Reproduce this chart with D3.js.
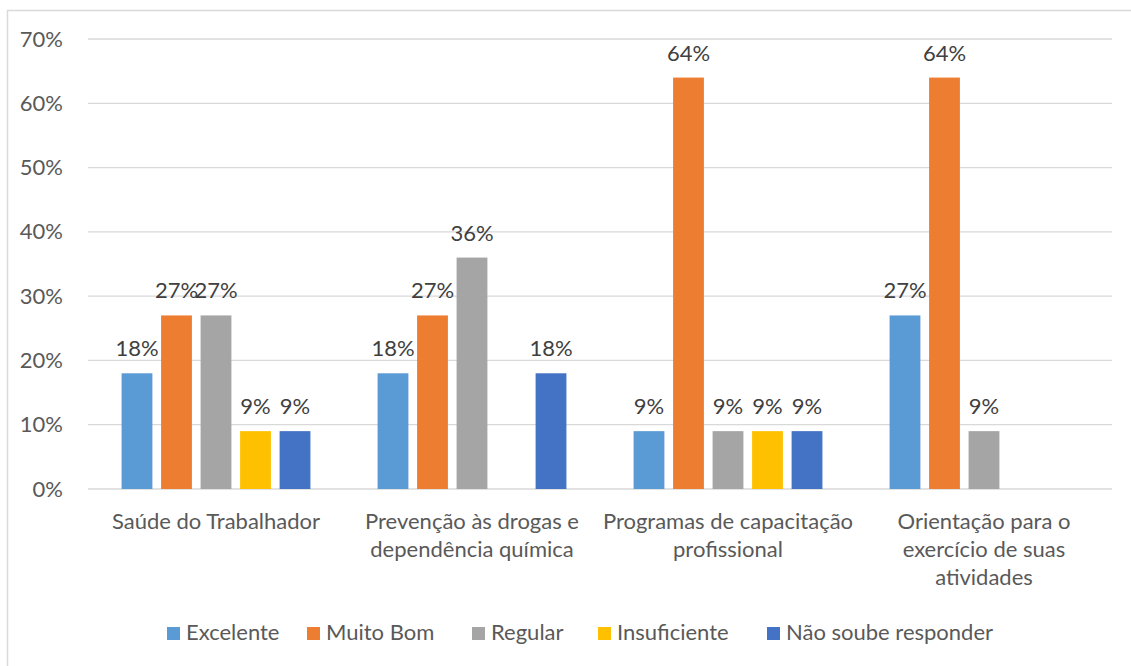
<!DOCTYPE html>
<html>
  <head>
    <meta charset="utf-8">
    <script src="https://cdn.jsdelivr.net/npm/d3@7/dist/d3.min.js"></script>
    <style>
        body { margin:0; background:#fff; }
        svg { display:block; }
    </style>
  </head>
  <body>
    <script>
      // data (null = no bar / no label)
      var categories = ["Saúde do Trabalhador",
                        "Prevenção às drogas e\ndependência química",
                        "Programas de capacitação\nprofissional",
                        "Orientação para o\nexercício de suas\natividades"];
      var series = ["Excelente", "Muito Bom", "Regular", "Insuficiente", "Não soube responder"];
      var colors = ["#5B9BD5", "#ED7D31", "#A5A5A5", "#FFC000", "#4472C4"];
      var excelente   = [18, 18, 9, 27];
      var muitoBom    = [27, 27, 64, 64];
      var regular     = [27, 36, 9, 9];
      var insuficiente = [9, null, 9, null];
      var naoSoube    = [9, 18, 9, null];
      var yTicks = [0, 10, 20, 30, 40, 50, 60, 70];

      var values = [excelente, muitoBom, regular, insuficiente, naoSoube];

      var width = 1131, height = 666;
      var margin = {left: 88, right: 19, top: 39, bottom: 177};
      var font = "Lato, 'Open Sans', sans-serif";
      var fs = 22;

      var svg = d3.select("body").append("svg")
          .attr("width", width)
          .attr("height", height);

      // outer chart border (only top and left show in the frame)
      svg.append("rect")
          .attr("x", 7.5).attr("y", 10.5)
          .attr("width", 1140).attr("height", 680)
          .attr("fill", "none")
          .attr("stroke", "#d9d9d9")
          .attr("stroke-width", 1.5);

      var x0 = d3.scaleBand()
          .domain(categories)
          .range([margin.left, width - margin.right])
          .padding(0);

      var x1 = d3.scaleBand()
          .domain(series)
          .range([0, x0.bandwidth()])
          .paddingInner(0.22)
          .paddingOuter(0.85);

      var y = d3.scaleLinear()
          .domain([0, 70])
          .range([height - margin.bottom, margin.top]);

      // gridlines
      svg.append("g")
        .selectAll("line")
        .data(yTicks)
        .enter().append("line")
          .attr("x1", margin.left)
          .attr("x2", width - margin.right)
          .attr("y1", function(d) { return y(d); })
          .attr("y2", function(d) { return y(d); })
          .attr("stroke", "#d9d9d9")
          .attr("stroke-width", 1.3);

      // y axis labels
      var yAxis = svg.append("g")
          .attr("transform", "translate(" + (margin.left - 22) + ",0)")
          .call(d3.axisLeft(y).tickValues(yTicks).tickSize(0).tickFormat(function(d) { return d + "%"; }));
      yAxis.select(".domain").remove();
      yAxis.selectAll("text")
          .attr("font-family", font)
          .attr("font-size", fs)
          .attr("fill", "#595959");

      // bars
      var rows = [];
      categories.forEach(function(c, i) {
          series.forEach(function(s, j) {
              rows.push({cat: c, ser: s, idx: j, v: values[j][i]});
          });
      });
      var present = rows.filter(function(d) { return d.v != null; });

      svg.append("g")
        .selectAll("rect")
        .data(present)
        .enter().append("rect")
          .attr("x", function(d) { return x0(d.cat) + x1(d.ser); })
          .attr("y", function(d) { return y(d.v); })
          .attr("width", x1.bandwidth())
          .attr("height", function(d) { return y(0) - y(d.v); })
          .attr("fill", function(d) { return colors[d.idx]; });

      // data labels
      svg.append("g")
        .selectAll("text")
        .data(present)
        .enter().append("text")
          .attr("x", function(d) { return x0(d.cat) + x1(d.ser) + x1.bandwidth() / 2; })
          .attr("y", function(d) { return y(d.v) - 17; })
          .attr("text-anchor", "middle")
          .attr("font-family", font)
          .attr("font-size", fs)
          .attr("fill", "#404040")
          .text(function(d) { return d.v + "%"; });

      // category labels
      var catG = svg.append("g")
        .selectAll("text")
        .data(categories)
        .enter().append("text")
          .attr("x", function(d) { return x0(d) + x0.bandwidth() / 2; })
          .attr("y", y(0) + 40)
          .attr("text-anchor", "middle")
          .attr("font-family", font)
          .attr("font-size", fs)
          .attr("fill", "#595959");
      catG.each(function(d) {
          var t = d3.select(this);
          d.split("\n").forEach(function(line, k) {
              t.append("tspan")
                .attr("x", t.attr("x"))
                .attr("dy", k === 0 ? 0 : 28)
                .text(line);
          });
      });

      // legend
      var legendX = [167, 307, 472, 598, 767];
      var legend = svg.append("g")
        .selectAll("g")
        .data(series)
        .enter().append("g")
          .attr("transform", function(d, i) { return "translate(" + legendX[i] + ",627)"; });
      legend.append("rect")
          .attr("width", 13).attr("height", 13)
          .attr("fill", function(d, i) { return colors[i]; });
      legend.append("text")
          .attr("x", 19)
          .attr("y", 13)
          .attr("font-family", font)
          .attr("font-size", fs)
          .attr("fill", "#595959")
          .text(function(d) { return d; });
    </script>
  </body>
</html>
